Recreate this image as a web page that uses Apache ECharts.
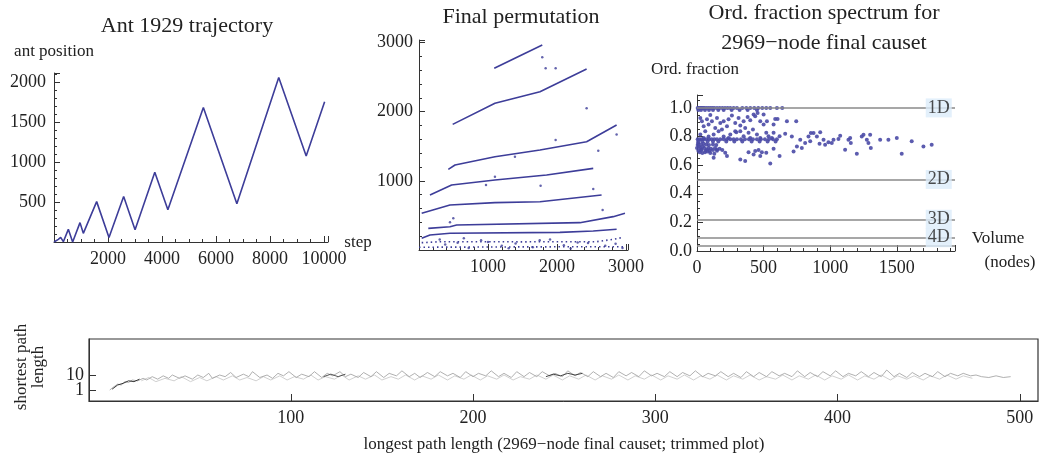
<!DOCTYPE html>
<html>
<head>
<meta charset="utf-8">
<script src="https://cdn.jsdelivr.net/npm/echarts@6/dist/echarts.min.js"></script>
<style>
  html, body { margin: 0; padding: 0; background: #fff; }
  #main { width: 1040px; height: 461px; }
</style>
</head>
<body>
<div id="main"></div>
<script>
// ---- panel 1: ant trajectory (turning points)
const antStep = [0, 160, 247, 346, 531, 691, 963, 1086, 1580, 2037, 2580, 3003, 3734, 4218, 5533, 6774, 8325, 9342, 10025];
const antPos  = [0, 33, 58, 4, 158, 0, 242, 108, 504, 55, 568, 154, 871, 402, 1680, 477, 2054, 1075, 1751];

// ---- panel 2: final permutation, bands of dots
const permBandA = [[1091, 2626], [1787, 2962]];
const permBandB = [[488, 1816], [1101, 2120], [1754, 2288], [2430, 2616]];
const permBandC = [[425, 1166], [522, 1228], [1101, 1348], [1754, 1445], [2430, 1565], [2865, 1806]];
const permBandD = [[159, 795], [473, 939], [1101, 1012], [1850, 1084], [2526, 1180]];
const permBandE = [[39, 530], [449, 650], [1101, 684], [1754, 698], [2647, 795]];
const permBandF = [[135, 313], [449, 337], [546, 361], [2333, 395], [2816, 482], [2986, 530]];
const permBandG = [[39, 169], [159, 217], [449, 241], [2043, 255], [2526, 274], [2865, 300]];
const permBandH = [[39, 106], [304, 120], [1500, 118], [2575, 120], [2816, 154], [2961, 183]];
const permBandI = [[0, 40], [1500, 45], [3000, 48]];
const permStray = [[1787, 2785], [1836, 2626], [1981, 2626], [2430, 2047], [1981, 1590], [2865, 1671],
  [2599, 1435], [1391, 1348], [1101, 1060], [971, 939], [1763, 929], [2526, 881], [2662, 578],
  [497, 458], [449, 400], [380, 80], [560, 105], [720, 30], [900, 140], [1200, 60], [1400, 95],
  [1650, 40], [1900, 150], [2100, 70], [2300, 110], [2700, 60], [2850, 90], [2950, 30], [300, 150],
  [650, 170], [1300, 25], [2200, 20], [1000, 115], [1750, 140], [2450, 100]];

// ---- panel 3: ordering fraction spectrum
const ordPoints = [
  [5,1],[15,1],[25,1],[35,1],[45,1],[55,1],[70,1],[85,1],[100,1],[115,1],[130,1],[150,1],[170,1],[190,1],
  [210,1],[230,1],[250,1],[275,1],[300,1],[340,1],[370,1],[400,1],[430,1],[460,1],[490,1],[520,1],[550,1],
  [600,1],[640,1],
  [10,.985],[30,.985],[60,.985],[90,.985],[120,.985],[160,.985],[200,.985],[260,.985],[320,.985],[380,.985],[450,.985],
  [25,.93],[75,.92],[100,.95],[175,.895],[237,.92],[262,.947],[400,.914],[437,.942],[475,.907],[455,.965],
  [587,.923],[605,.923],[675,.907],[745,.907],[37,.907],[112,.907],[150,.93],[200,.907],[287,.895],[312,.93],
  [350,.907],[380,.937],[425,.953],[500,.953],[525,.907],
  [87,.884],[137,.86],[225,.872],[325,.877],[362,.86],[420,.849],[500,.884],[287,.837],[187,.849],[50,.872],[575,.884],
  [25,.814],[62,.837],[125,.814],[162,.837],[250,.814],[295,.83],[350,.802],[387,.826],[450,.814],[520,.826],
  [537,.802],[575,.826],[620,.802],[325,.837],[50,.79],[87,.8],[200,.8],[237,.79],[400,.79],[475,.79],[562,.79],
  [5,.78],[20,.78],[35,.78],[50,.78],[70,.78],[90,.78],[110,.78],[130,.78],[150,.78],[175,.78],[200,.78],
  [225,.78],[250,.78],[275,.78],[300,.78],[330,.78],[360,.78],[390,.78],[420,.78],[450,.78],[480,.78],
  [510,.78],[540,.78],[570,.78],[600,.78],
  [10,.765],[40,.765],[80,.765],[120,.765],[160,.765],[220,.765],[280,.765],[340,.765],[410,.765],[470,.765],[530,.765],[590,.765],
  [5,.74],[15,.73],[25,.72],[35,.71],[45,.73],[55,.72],[65,.7],[75,.71],[85,.72],[95,.7],[105,.715],[120,.705],
  [135,.72],[150,.7],[170,.715],[10,.7],[20,.69],[30,.705],[40,.685],[60,.69],[80,.695],[100,.685],[130,.68],
  [190,.705],[0,.72],[8,.755],[28,.745],[50,.75],[70,.745],[90,.74],[120,.745],[145,.74],
  [125,.651],[212,.686],[225,.663],[325,.64],[362,.628],[387,.69],[437,.698],[462,.705],[487,.69],[520,.686],
  [475,.663],[550,.612],[620,.663],[575,.714],[425,.674],[150,.709],
  [662,.82],[712,.8],[775,.778],[812,.755],[750,.731],[787,.72],[725,.696],[837,.8],[855,.825],[875,.825],
  [850,.766],[900,.8],[925,.829],[950,.778],[920,.75],[962,.743],[987,.759],[1012,.755],[1025,.778],[1062,.783],
  [1075,.806],[1112,.708],[1137,.778],[1150,.79],[1155,.755],[1200,.68],[1237,.8],[1250,.813],[1275,.778],
  [1287,.755],[1300,.813],[1305,.72],[1375,.778],[1437,.778],[1500,.79],[1537,.68],[1612,.766],[1700,.731],[1762,.743]
];
const dimLevels = [1.0, 0.5, 0.222, 0.093];
const dimNames = ['1D', '2D', '3D', '4D'];
const extraLevel = 0.04;
const dimLabelX = 1815;

// ---- panel 4: shortest vs longest path length (two overlapping scribbled traces)
const pathTraceA = [[0.7,1],[3,3],[5,4.5],[7,4],[9,6],[11,5.5],[13,7],[16,6.5],[19,8],[21,7],[24,9],[27,7.5],
  [30,9.5],[33,8],[35,10],[39,8],[42,9.5],[46,7.5],[49,10],[52,8.5],[55,11],[57,8],[61,10],[64,9],[67,11.5],
  [70,8.5],[74,10.5],[77,9],[79,12],[83,8.5],[87,10],[90,8],[93,11],[96,9.5],[99,12],[103,8.5],[106,10.5],
  [110,9],[113,12],[117,8.5],[120,11],[123,9.5],[127,12],[130,9],[133,10.5],[137,8.5],[140,11.5],[144,9],
  [147,12],[151,8.5],[154,11],[158,9.5],[161,12.5],[165,9],[168,11],[171,8.5],[175,11.5],[179,9],[182,12],
  [186,9.5],[189,11],[193,8.5],[196,12],[200,9],[203,11],[207,9.5],[210,12.5],[214,9],[217,11],[221,8.5],
  [224,12],[228,9],[231,11.5],[235,9],[238,12],[242,9.5],[245,11],[249,9],[252,12.5],[256,9.5],[259,11.5],
  [263,9],[266,12],[270,9],[273,11],[277,8.5],[280,12],[284,9.5],[287,11.5],[291,9],[294,12.5],[298,9.5],
  [301,11],[305,9],[308,12],[312,9],[315,11.5],[319,9.5],[322,12.5],[326,9],[329,11],[333,9.5],[336,12],
  [340,9],[343,11],[347,8.5],[350,12],[354,9],[357,11.5],[361,9],[364,12],[368,9.5],[371,11],[375,9],
  [378,12.5],[382,9],[385,11.5],[389,9],[392,12],[396,9.5],[399,12.5],[403,9],[406,11],[410,9.5],[413,12],
  [417,9],[420,11.5],[424,9],[427,13],[431,9],[434,11],[438,8.5],[441,11.5],[445,9],[448,11],[452,9],
  [455,12],[459,9],[462,11],[466,9.5],[469,11],[473,9.5],[476,10],[479,9],[483,8.5],[487,9.5],[491,8.5],[495,9]];
const pathTraceB = [[18,6.5],[22,8.5],[26,6],[31,8],[36,6.5],[40,9],[45,6],[50,8.5],[54,6.5],[59,9],[63,7],
  [68,9.5],[72,7],[76,8.5],[81,6.5],[85,9],[89,7],[94,9.5],[98,7],[102,9],[107,7.5],[111,10],[115,7],[119,9],
  [124,7.5],[128,10],[132,7],[137,9.5],[141,7.5],[146,10],[150,7],[155,9],[159,7.5],[163,10],[168,7],[172,9.5],
  [177,7.5],[181,10],[186,7],[190,9.5],[195,7.5],[199,10],[204,7],[208,9.5],[213,7.5],[217,10],[222,7],[226,9],
  [231,7.5],[235,10],[240,7.5],[244,10],[249,7],[253,9.5],[258,7.5],[262,10],[267,7],[271,9.5],[276,7.5],
  [280,10],[285,7],[289,9.5],[294,7.5],[298,10],[303,7],[307,9.5],[312,7.5],[316,10],[321,7],[325,9.5],
  [330,7.5],[334,10],[339,7],[343,9.5],[348,7.5],[352,10],[357,7],[361,9],[366,7.5],[370,10],[375,7],
  [379,9.5],[384,7.5],[388,10],[393,7],[397,9.5],[402,7.5],[406,10],[411,7],[415,9.5],[420,7.5],[424,10],
  [429,7],[433,9.5],[438,7.5],[442,9.5],[447,7],[451,9.5],[456,7.5],[460,10],[465,7.5],[469,9.5],[474,8]];
const pathDark = [[2,1.5],[5,4],[8,5],[11,6.5],[14,6],[17,7.5]];
const pathDark2 = [[240,9],[244,10.5],[248,9.5],[252,11],[256,10],[260,11]];
const pathDark3 = [[118,9],[122,10.5],[126,9],[130,10.5]];
const bottomTicks = [100, 200, 300, 400, 500];
const bottomYTicks = [1, 10];

const FONT = '"Liberation Serif", "DejaVu Serif", serif';
const BLUE = '#3d3d99';
const AX = '#333';
const plain = v => String(v);

function lab(o) {
  return Object.assign({ fontFamily: FONT, fontSize: 18, color: '#222', margin: 8, hideOverlap: false, formatter: plain }, o);
}
function minor(n) {
  return { show: n > 0, splitNumber: n || 5, length: 3, lineStyle: { color: AX } };
}
function valAxis(grid, o) {
  return Object.assign({
    gridIndex: grid, type: 'value', splitLine: { show: false },
    axisLine: { show: true, onZero: false, lineStyle: { color: AX, width: 1 } },
    axisTick: { show: true, inside: true, length: 6, lineStyle: { color: AX } }
  }, o);
}
// one bottom-panel y axis per tick value, so the two close labels are both kept
function bottomY(v, withLine) {
  return valAxis(3, { min: -5.6, max: 31.6, position: 'left', minorTick: minor(0),
    axisLine: { show: withLine, onZero: false, lineStyle: { color: AX, width: 1 } },
    axisTick: { show: true, inside: true, length: 7, customValues: [v], lineStyle: { color: AX } },
    axisLabel: lab({ margin: 5, customValues: [v], showMinLabel: true, showMaxLabel: true }) });
}

function txt(x, y, s, size, extra) {
  return Object.assign({
    type: 'text', x: x, y: y, silent: true,
    style: { text: s, fill: '#222', font: size + 'px ' + FONT, textAlign: 'center', textVerticalAlign: 'middle', align: 'center', verticalAlign: 'middle' }
  }, extra || {});
}

const chart = echarts.init(document.getElementById('main'));
const bandLine = (data, dotted) => ({
  type: 'line', xAxisIndex: 1, yAxisIndex: 1, data: data, symbol: 'none', silent: true,
  lineStyle: { color: BLUE, width: 1.6, type: dotted ? [1.5, 3] : 'solid' }
});
const pathLine = (data, color, w) => ({
  type: 'line', xAxisIndex: 3, yAxisIndex: 3, data: data, symbol: 'none', silent: true,
  lineStyle: { color: color, width: w }
});

chart.setOption({
  animation: false,
  backgroundColor: '#fff',
  grid: [
    { left: 54, top: 73, right: 712, bottom: 219 },
    { left: 419, top: 40, right: 412, bottom: 211 },
    { left: 697, top: 95, right: 85, bottom: 210 },
    { left: 89, top: 339, right: 2, bottom: 60, show: true, borderColor: AX, borderWidth: 1.2 }
  ],
  xAxis: [
    valAxis(0, { min: 0, max: 10150, interval: 2000, minorTick: minor(4),
      axisLabel: lab({ showMinLabel: false, showMaxLabel: false }) }),
    valAxis(1, { min: 0, max: 3030, interval: 1000, minorTick: minor(5),
      axisLabel: lab({ showMinLabel: false, showMaxLabel: false }) }),
    valAxis(2, { min: 0, max: 1937, interval: 500, minorTick: minor(5),
      axisLabel: lab({ showMinLabel: true, showMaxLabel: false }) }),
    valAxis(3, { min: -10.7, max: 510, minorTick: minor(0),
      axisTick: { show: true, inside: true, length: 7, customValues: bottomTicks, lineStyle: { color: AX } },
      axisLabel: lab({ customValues: bottomTicks, showMinLabel: true, showMaxLabel: true }) })
  ],
  yAxis: [
    valAxis(0, { min: 0, max: 2110, interval: 500, minorTick: minor(5),
      axisLabel: lab({ showMinLabel: false, showMaxLabel: false }) }),
    valAxis(1, { min: 0, max: 3035, interval: 1000, minorTick: minor(5),
      axisLabel: lab({ margin: 6, showMinLabel: false, showMaxLabel: false }) }),
    valAxis(2, { min: 0, max: 1.09, interval: 0.2, minorTick: minor(4),
      axisLabel: lab({ margin: 5, showMinLabel: true, showMaxLabel: false, formatter: v => v.toFixed(1) }) }),
    bottomY(bottomYTicks[0], true),
    bottomY(bottomYTicks[1], false)
  ],
  graphic: [
    txt(187, 26, 'Ant 1929 trajectory', 22),
    txt(521, 17, 'Final permutation', 22),
    txt(824, 13, 'Ord. fraction spectrum for', 22),
    txt(824, 43, '2969\u2212node final causet', 22),
    txt(54, 52, 'ant position', 17),
    txt(358, 243, 'step', 17),
    txt(695, 70, 'Ord. fraction', 17),
    txt(998, 239, 'Volume', 17),
    txt(1010, 263, '(nodes)', 17),
    txt(30, 367, 'shortest path\nlength', 17, { rotation: Math.PI / 2 }),
    txt(564, 445, 'longest path length (2969\u2212node final causet; trimmed plot)', 17)
  ],
  series: [
    { type: 'line', xAxisIndex: 0, yAxisIndex: 0, symbol: 'none', silent: true,
      data: antStep.map((s, i) => [s, antPos[i]]), lineStyle: { color: BLUE, width: 1.6 } },
    bandLine(permBandA), bandLine(permBandB), bandLine(permBandC), bandLine(permBandD),
    bandLine(permBandE), bandLine(permBandF), bandLine(permBandG), bandLine(permBandH, true), bandLine(permBandI, true),
    { type: 'scatter', xAxisIndex: 1, yAxisIndex: 1, data: permStray, symbolSize: 2.5, silent: true,
      itemStyle: { color: BLUE } },
    { type: 'scatter', xAxisIndex: 2, yAxisIndex: 2, data: ordPoints, symbolSize: 4, silent: true,
      itemStyle: { color: '#4a4aa6', opacity: 0.9 },
      markLine: { silent: true, symbol: 'none', label: { show: false },
        lineStyle: { color: '#8a8a8a', width: 1.5, type: 'solid' },
        data: dimLevels.concat([extraLevel]).map(v => ({ yAxis: v })) } },
    { type: 'scatter', xAxisIndex: 2, yAxisIndex: 2, symbolSize: 1, silent: true, z: 5,
      itemStyle: { color: 'rgba(0,0,0,0)' },
      data: dimLevels.map((v, i) => ({ name: dimNames[i], value: [dimLabelX, v] })),
      label: { show: true, position: 'inside', formatter: '{b}', fontFamily: FONT, fontSize: 18, color: '#222',
        backgroundColor: '#dcecfa', padding: [1, 2, 0, 2] } },
    pathLine(pathTraceB, '#c4c4c4', 0.8),
    pathLine(pathTraceA, '#9c9c9c', 0.8),
    pathLine(pathDark, '#222', 0.9),
    pathLine(pathDark2, '#333', 0.9),
    pathLine(pathDark3, '#444', 0.9)
  ]
});
</script>
</body>
</html>
